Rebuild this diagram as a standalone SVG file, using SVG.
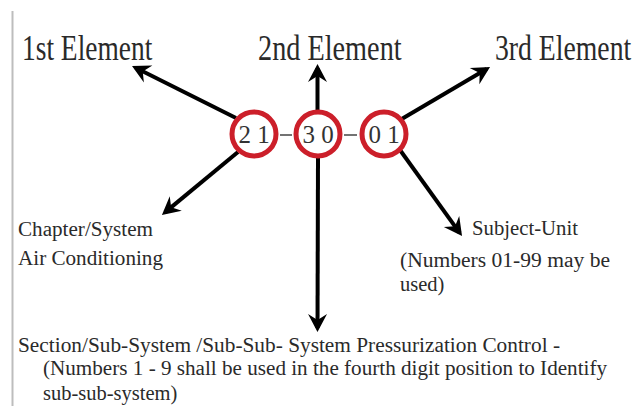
<svg xmlns="http://www.w3.org/2000/svg" width="639" height="406" viewBox="0 0 639 406">
<style>
.lbl{font-family:"Liberation Serif","Times New Roman",serif;fill:#2a2a2a}
.big{font-size:28px}
.sm{font-size:20.5px}
.dig{font-family:"Liberation Serif","Times New Roman",serif;font-size:25px;fill:#333}
.ring{fill:none;stroke:#cc1f2a;stroke-width:5}
.arr{stroke:#000;stroke-width:4;fill:none;marker-end:url(#ah)}
.dash{stroke:#444;stroke-width:1.5}
</style>
<defs>
<marker id="ah" markerUnits="userSpaceOnUse" viewBox="-16 -11 22 22" refX="0" refY="0" markerWidth="22" markerHeight="22" orient="auto">
<path d="M4,0 L-14,-9.5 L-8,0 L-14,9.5 Z" fill="#000"/>
</marker>
</defs>
<rect width="639" height="406" fill="#fff"/>
<line x1="12.5" y1="11" x2="12.5" y2="406" stroke="#bdbdbd" stroke-width="2"/>
<g id="connectors">
<line class="arr" x1="236" y1="118" x2="135.6" y2="67.8"/>
<line class="arr" x1="317.5" y1="110" x2="317.5" y2="68"/>
<line class="arr" x1="400" y1="120" x2="486.6" y2="69"/>
<line class="arr" x1="238" y1="152" x2="165" y2="212.4"/>
<line class="arr" x1="318" y1="158" x2="317.5" y2="328"/>
<line class="arr" x1="400" y1="150" x2="459.7" y2="232.8"/>
<line class="dash" x1="280" y1="135" x2="292" y2="135"/>
<line class="dash" x1="344" y1="135" x2="357" y2="135"/>
</g>
<g id="code-21">
<circle class="ring" cx="254" cy="134" r="22"/>
<text class="dig" x="254" y="143" text-anchor="middle">2 1</text>
</g>
<g id="code-30">
<circle class="ring" cx="318" cy="134" r="22"/>
<text class="dig" x="318" y="143" text-anchor="middle">3 0</text>
</g>
<g id="code-01">
<circle class="ring" cx="384" cy="134" r="22"/>
<text class="dig" x="384" y="143" text-anchor="middle">0 1</text>
</g>
<g id="first-element">
<text class="lbl big" transform="translate(22,60) scale(0.98,1.25)" x="0" y="0">1st Element</text>
</g>
<g id="second-element">
<text class="lbl big" transform="translate(258,60) scale(1.01,1.25)" x="0" y="0">2nd Element</text>
</g>
<g id="third-element">
<text class="lbl big" transform="translate(495,60) scale(0.99,1.25)" x="0" y="0">3rd Element</text>
</g>
<g id="chapter-system">
<text class="lbl sm" x="18" y="236" textLength="135" lengthAdjust="spacingAndGlyphs">Chapter/System</text>
<text class="lbl sm" x="18" y="265" textLength="145" lengthAdjust="spacingAndGlyphs">Air Conditioning</text>
</g>
<g id="subject-unit">
<text class="lbl sm" x="472" y="235" textLength="106" lengthAdjust="spacingAndGlyphs">Subject-Unit</text>
<text class="lbl sm" x="400" y="267" textLength="210" lengthAdjust="spacingAndGlyphs">(Numbers 01-99 may be</text>
<text class="lbl sm" x="400" y="291">used)</text>
</g>
<g id="section-subsystem">
<text class="lbl sm" x="18" y="352" textLength="542" lengthAdjust="spacingAndGlyphs">Section/Sub-System /Sub-Sub- System Pressurization Control -</text>
<text class="lbl sm" x="43" y="375" textLength="564" lengthAdjust="spacingAndGlyphs">(Numbers 1 - 9 shall be used in the fourth digit position to Identify</text>
<text class="lbl sm" x="43" y="400">sub-sub-system)</text>
</g>
</svg>
